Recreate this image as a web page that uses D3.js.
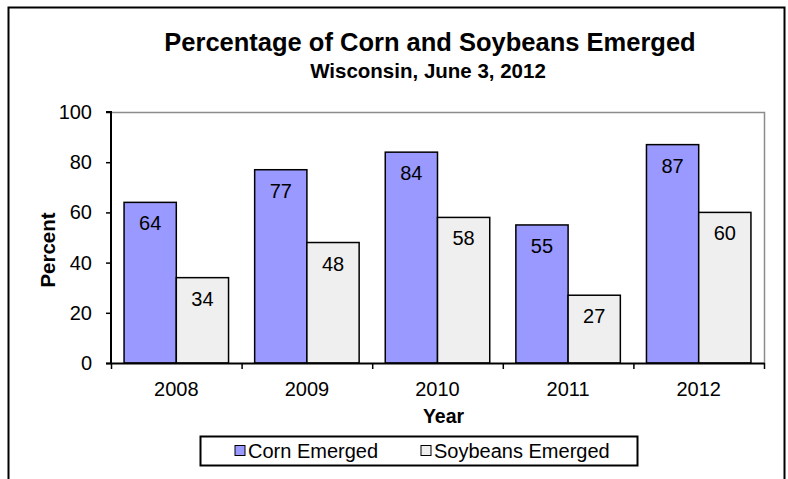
<!DOCTYPE html>
<html>
<head>
<meta charset="utf-8">
<script src="https://cdn.jsdelivr.net/npm/d3@7"></script>
<style>
  body { margin: 0; background: #fff; }
  svg text { font-family: Arial, "Liberation Sans", sans-serif; fill: #000; }
</style>
</head>
<body>
<div id="chart"></div>
<script>
// data
const years = ['2008', '2009', '2010', '2011', '2012'];
const series = ['Corn Emerged', 'Soybeans Emerged'];
const cornValues = [64, 77, 84, 55, 87];
const soyValues = [34, 48, 58, 27, 60];
const yTicks = [0, 20, 40, 60, 80, 100];
const colors = ['#9999ff', '#efefef'];

const width = 788, height = 479;
const margin = [112, 116, 111, 24]; // top, bottom, left, right

const svg = d3.select('#chart').append('svg')
    .attr('width', width)
    .attr('height', height);

// outer frame (bottom edge runs past the picture)
svg.append('rect')
    .attr('x', 8.5).attr('y', 7.5)
    .attr('width', 776).attr('height', 500)
    .attr('fill', 'none').attr('stroke', '#000').attr('stroke-width', 2);

const chartW = width - margin[2] - margin[3],
      chartH = height - margin[0] - margin[1];

const x0 = d3.scaleBand(years, [0, chartW]);
const x1 = d3.scaleBand(series, [x0.bandwidth() * 0.1, x0.bandwidth() * 0.9]);
const y = d3.scaleLinear([0, 100], [chartH, 0]);

const chart = svg.append('g')
    .attr('transform', `translate(${margin[2]}, ${margin[0]})`);

// plot area border (gray top/right)
chart.append('path')
    .attr('d', `M0.5,0.5H${chartW + 0.5}V${chartH}`)
    .attr('fill', 'none').attr('stroke', '#8c8c8c').attr('stroke-width', 1.5);

// bars
const rows = years.map((yr, i) => ({ year: yr, values: [cornValues[i], soyValues[i]] }));
const groups = chart.selectAll('g.year')
    .data(rows)
    .join('g')
    .classed('year', true)
    .attr('transform', d => `translate(${x0(d.year)}, 0)`);

groups.selectAll('rect')
    .data(d => d.values.map((v, k) => ({ key: series[k], k, v })))
    .join('rect')
    .attr('x', d => x1(d.key))
    .attr('y', d => y(d.v))
    .attr('width', x1.bandwidth())
    .attr('height', d => y(0) - y(d.v))
    .attr('fill', d => colors[d.k])
    .attr('stroke', '#000').attr('stroke-width', 1.5);

groups.selectAll('text')
    .data(d => d.values.map((v, k) => ({ key: series[k], v })))
    .join('text')
    .attr('x', d => x1(d.key) + x1.bandwidth() / 2)
    .attr('y', d => y(d.v) + 28)
    .attr('text-anchor', 'middle')
    .style('font-size', '20px')
    .text(d => d.v);

// axes
const axisY = chart.append('g')
    .call(d3.axisLeft(y).tickValues(yTicks).tickSize(5).tickPadding(14));
const axisX = chart.append('g')
    .attr('transform', `translate(0, ${chartH})`)
    .call(d3.axisBottom(x0).tickSize(0).tickPadding(19));
axisX.selectAll('.tick line').remove();
// x ticks sit on the band boundaries
axisX.selectAll('line.sep')
    .data(years.concat(['end']))
    .join('line')
    .classed('sep', true)
    .attr('x1', (d, i) => i * x0.step() + 0.5)
    .attr('x2', (d, i) => i * x0.step() + 0.5)
    .attr('y1', 0).attr('y2', 6)
    .attr('stroke', '#000').attr('stroke-width', 1.5);

[axisX, axisY].forEach(a => {
    a.select('.domain').attr('stroke', '#000').attr('stroke-width', 2);
    a.selectAll('.tick line').attr('stroke', '#000').attr('stroke-width', 1.5);
    a.selectAll('.tick text')
        .style('font-size', '20px')
        .style('font-family', 'Arial, "Liberation Sans", sans-serif')
        .attr('fill', '#000');
});
axisY.select('.domain').attr('d', `M-5,${chartH}.5H0V0H-5`);

// titles
svg.append('text')
    .attr('x', 430).attr('y', 51)
    .attr('text-anchor', 'middle')
    .style('font-size', '25.5px').style('font-weight', 'bold')
    .text('Percentage of Corn and Soybeans Emerged');
svg.append('text')
    .attr('x', 428).attr('y', 78)
    .attr('text-anchor', 'middle')
    .style('font-size', '20.5px').style('font-weight', 'bold')
    .text('Wisconsin, June 3, 2012');

svg.append('text')
    .attr('transform', `translate(55, 250) rotate(-90)`)
    .attr('text-anchor', 'middle')
    .style('font-size', '20.5px').style('font-weight', 'bold')
    .text('Percent');

svg.append('text')
    .attr('x', margin[2] + chartW / 2 + 6).attr('y', 423)
    .attr('text-anchor', 'middle')
    .style('font-size', '19.5px').style('font-weight', 'bold')
    .text('Year');

// legend
const legend = svg.append('g').attr('transform', 'translate(200, 436)');
legend.append('rect')
    .attr('x', 0.5).attr('y', 0.5).attr('width', 437).attr('height', 29)
    .attr('fill', '#fff').attr('stroke', '#000').attr('stroke-width', 2);
const legendX = [35, 221];
const items = legend.selectAll('g.item')
    .data(series)
    .join('g')
    .classed('item', true)
    .attr('transform', (d, i) => `translate(${legendX[i]}, 0)`);
items.append('rect')
    .attr('x', 0).attr('y', 9.5).attr('width', 10).attr('height', 10)
    .attr('fill', (d, i) => colors[i])
    .attr('stroke', '#000').attr('stroke-width', 1);
items.append('text')
    .attr('x', 13).attr('y', 22)
    .style('font-size', '20px')
    .text(d => d);
</script>
</body>
</html>
